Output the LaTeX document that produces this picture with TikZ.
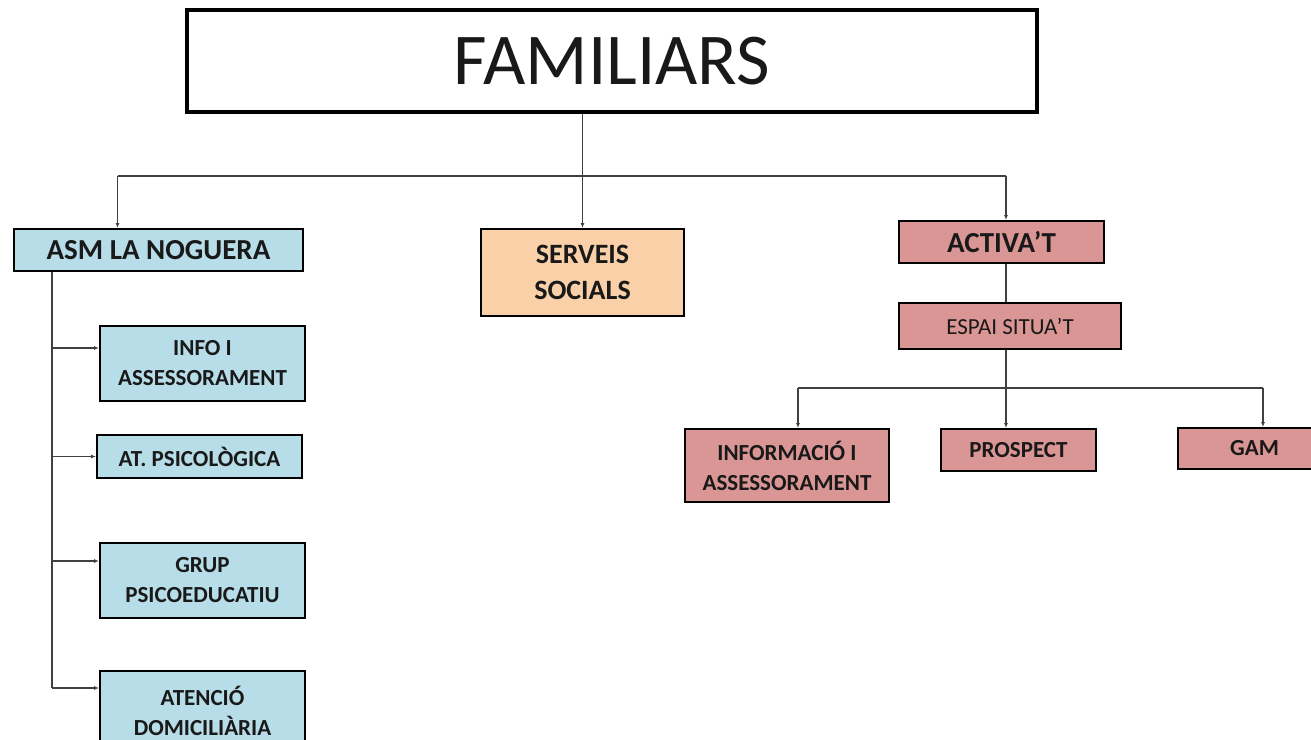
\documentclass[tikz,border=0pt]{standalone}
\usepackage{fontspec}
\setmainfont{Carlito}
\usetikzlibrary{arrows.meta,positioning}
\definecolor{asmblue}{HTML}{B7DDE8}
\definecolor{socpeach}{HTML}{FAD0A8}
\definecolor{actpink}{HTML}{D99694}

\begin{document}
\begin{tikzpicture}[x=1pt,y=-1pt]
\tikzstyle{box}=[draw=black,line width=2pt,text=black!90,anchor=north west,inner sep=0pt,align=center,font=\bfseries\fontsize{23}{30}\selectfont]
\tikzstyle{asmbox}=[box,fill=asmblue]
\tikzstyle{actbox}=[box,fill=actpink]
\tikzstyle{conn}=[draw=black!75,line width=1.3pt]
\tikzstyle{arr}=[conn,-{Latex[length=5pt,width=4pt]}]
\useasboundingbox (0,0) rectangle (1311,739);
% top
\node [box,line width=4pt,minimum width=850pt,minimum height=102pt,font=\fontsize{73}{73}\selectfont] (fam) at (185,8) {FAMILIARS};
% second level
\node [asmbox,minimum width=289pt,minimum height=42pt,font=\bfseries\fontsize{29}{30}\selectfont] (asm) at (13,228) {ASM LA NOGUERA};
\node [box,fill=socpeach,minimum width=203pt,minimum height=87pt,font=\bfseries\fontsize{28}{36}\selectfont] (soc) at (480,228) {SERVEIS\\SOCIALS};
\node [actbox,minimum width=205pt,minimum height=42pt,font=\bfseries\fontsize{29}{30}\selectfont] (act) at (898,220) {ACTIVA'T};
\node [actbox,minimum width=222pt,minimum height=46pt,font=\fontsize{23}{24}\selectfont] (espai) at (898,302) {ESPAI SITUA'T};
% activa't
\node [actbox,minimum width=204pt,minimum height=73pt] (inf) at (684,428) {INFORMACIÓ I\\ASSESSORAMENT};
\node [actbox,minimum width=155pt,minimum height=42pt] (pros) at (940,428) {PROSPECT};
\node [actbox,minimum width=153pt,minimum height=41pt] (gam) at (1177,427) {GAM};
% asm
\node [asmbox,minimum width=205pt,minimum height=75pt] (info) at (99,325) {INFO I\\ASSESSORAMENT};
\node [asmbox,minimum width=205pt,minimum height=43pt] (psico) at (96,434) {AT. PSICOLÒGICA};
\node [asmbox,minimum width=205pt,minimum height=75pt] (grup) at (99,542) {GRUP\\PSICOEDUCATIU};
\node [asmbox,minimum width=205pt,minimum height=80pt] (aten) at (99,670) {ATENCIÓ\\DOMICILIÀRIA};

\coordinate (bar) at (0,176);
\coordinate (bar2) at (0,388);
\coordinate (asmin) at ([xshift=-41pt]asm.north);
\coordinate (actin) at ([xshift=4.5pt]act.north);
\coordinate (infin) at ([xshift=11pt]inf.north);
\coordinate (gamin) at ([xshift=8.5pt]gam.north);
\coordinate (trunk) at ([xshift=39pt]asm.south west);
\coordinate (infoin) at ([yshift=-23pt]info.north west);
\coordinate (grupin) at ([yshift=-19pt]grup.north west);
\coordinate (atenin) at ([yshift=-18pt]aten.north west);

\draw[arr] (fam.south -| soc.north) -- (soc.north);
\draw[conn,line width=1.8pt] (asmin |- bar) -- (actin |- bar);
\draw[arr] (asmin |- bar) -- (asmin);
\draw[arr] (actin |- bar) -- (actin);
\draw[conn] (act.south -| actin) -- (espai.north -| actin);
\draw[conn] (espai.south -| actin) -- (bar2 -| actin);
\draw[conn] (infin |- bar2) -- (gamin |- bar2);
\draw[arr] (infin |- bar2) -- (infin);
\draw[arr] (bar2 -| actin) -- (pros.north -| actin);
\draw[arr] (gamin |- bar2) -- (gamin);
\draw[conn] (trunk) -- (trunk |- atenin);
\draw[arr] (trunk |- infoin) -- (infoin);
\draw[arr] (trunk |- psico.west) -- (psico.west);
\draw[arr] (trunk |- grupin) -- (grupin);
\draw[arr] (trunk |- atenin) -- (atenin);
\end{tikzpicture}
\end{document}
